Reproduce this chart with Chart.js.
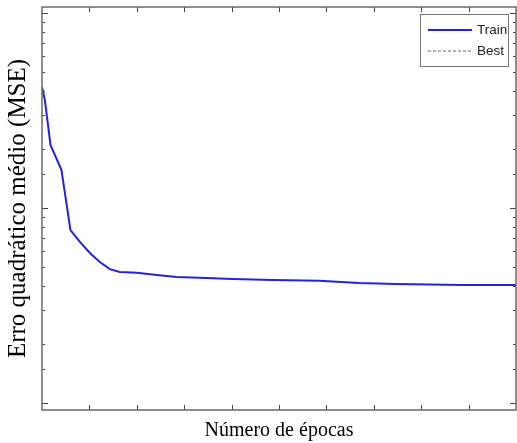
<!DOCTYPE html>
<html lang="pt">

<head>
    <meta charset="UTF-8">
    <title>Erro quadrático médio</title>
    <script src="https://cdn.jsdelivr.net/npm/chart.js"></script>
    <style>
        html, body { margin: 0; padding: 0; background: #fff; }
        .box-grafico { position: relative; width: 517px; height: 443px; }
    </style>
</head>

<body>
    <div class="box-grafico">
        <canvas id="grafico-mse"></canvas>
    </div>

<script>
    // valores (épocas e MSE de treino)
    var epocas = [0, 0.6, 1.8, 4.1, 6, 8, 10.1, 12.2, 14.3, 16.4, 20, 24.2, 28.4, 34.7, 40.2, 48.6, 58.5, 66.9, 74.7, 88.6, 100];
    var mseTreino = [0.417, 0.358, 0.210, 0.157, 0.0771, 0.0670, 0.0588, 0.0528, 0.0486, 0.0470, 0.0465, 0.0453, 0.0443, 0.0438, 0.0433, 0.0428, 0.0423, 0.0413, 0.0408, 0.0403, 0.0403];
    var epocasMelhor = [];
    var mseMelhor = [];
    var nomesSeries = ['Train', 'Best'];
    var limitesX = [0, 100];
    var passoX = 10;
    var limitesY = [0.00921, 1.073];

    function pontos(xs, ys) {
        var lista = [];
        for (var i = 0; i < xs.length; i++) {
            lista.push({ x: xs[i], y: ys[i] });
        }
        return lista;
    }

    // moldura, marcas para dentro e legenda com caixa (estilo matlab)
    var molduraPlugin = {
        id: 'moldura',
        afterDatasetsDraw(chart) {
            var ctx = chart.ctx;
            var a = chart.chartArea;
            var sx = chart.scales.x;
            var sy = chart.scales.y;

            function traco(x1, y1, x2, y2) {
                ctx.beginPath();
                ctx.moveTo(x1, y1);
                ctx.lineTo(x2, y2);
                ctx.stroke();
            }

            ctx.save();
            ctx.strokeStyle = '#444';
            ctx.lineWidth = 1;

            sx.ticks.forEach(function (t) {
                var px = Math.round(sx.getPixelForValue(t.value)) + 0.5;
                if (px <= a.left + 2 || px >= a.right - 2) return;
                traco(px, a.bottom, px, a.bottom - 5);
                traco(px, a.top, px, a.top + 5);
            });

            sy.ticks.forEach(function (t, i, arr) {
                if (i == 0 || i == arr.length - 1) return;
                var py = Math.round(sy.getPixelForValue(t.value)) + 0.5;
                var len = t.major ? 6 : 3;
                traco(a.left, py, a.left + len, py);
                traco(a.right, py, a.right - len, py);
            });

            ctx.strokeStyle = '#6a6a6a';
            ctx.lineWidth = 1.5;
            ctx.strokeRect(a.left, a.top, a.right - a.left, a.bottom - a.top);

            // legenda
            var bx = a.right - 96, by = a.top + 7, bw = 88, bh = 52;
            ctx.fillStyle = '#fff';
            ctx.fillRect(bx, by, bw, bh);
            ctx.strokeStyle = '#777';
            ctx.lineWidth = 1;
            ctx.strokeRect(bx + 0.5, by + 0.5, bw, bh);

            ctx.font = '13.5px "Liberation Sans", Arial, sans-serif';
            ctx.textBaseline = 'middle';
            ctx.textAlign = 'left';
            chart.data.datasets.forEach(function (ds, i) {
                var ly = by + 16 + i * 21;
                ctx.strokeStyle = ds.borderColor;
                ctx.lineWidth = ds.borderWidth;
                ctx.setLineDash(ds.borderDash || []);
                traco(bx + 8, ly, bx + 52, ly);
                ctx.setLineDash([]);
                ctx.fillStyle = '#222';
                ctx.fillText(ds.label, bx + 57, ly);
            });

            ctx.restore();
        }
    };

    var dadosGrafico = {
        datasets: [{
            label: nomesSeries[0],
            data: pontos(epocas, mseTreino),
            borderColor: '#2323dc',
            borderWidth: 2,
            pointRadius: 0,
            tension: 0
        }, {
            label: nomesSeries[1],
            data: pontos(epocasMelhor, mseMelhor),
            borderColor: '#5560b8',
            borderWidth: 1,
            borderDash: [3, 2],
            pointRadius: 0
        }]
    };

    var config = {
        type: 'line',
        data: dadosGrafico,
        options: {
            responsive: true,
            maintainAspectRatio: false,
            animation: false,
            layout: { padding: { top: 7, right: 1, left: 0, bottom: 0 } },
            plugins: {
                legend: { display: false },
                tooltip: { enabled: false }
            },
            scales: {
                x: {
                    type: 'linear',
                    min: limitesX[0],
                    max: limitesX[1],
                    ticks: { display: false, stepSize: passoX, autoSkip: false },
                    grid: { display: false, drawTicks: false },
                    border: { display: false },
                    title: {
                        display: true,
                        text: 'Número de épocas',
                        color: '#000',
                        font: { family: '"Liberation Serif", "Times New Roman", serif', size: 20 },
                        padding: { top: 9, bottom: 0 }
                    },
                    afterFit: function (scale) { scale.height = 33; }
                },
                y: {
                    type: 'logarithmic',
                    min: limitesY[0],
                    max: limitesY[1],
                    ticks: { display: false, autoSkip: false },
                    grid: { display: false, drawTicks: false },
                    border: { display: false },
                    title: {
                        display: true,
                        text: 'Erro quadrático médio (MSE)',
                        color: '#000',
                        font: { family: '"Liberation Serif", "Times New Roman", serif', size: 25 },
                        padding: { top: 3, bottom: 0 }
                    },
                    afterFit: function (scale) { scale.width = 42; }
                }
            }
        },
        plugins: [molduraPlugin]
    };

    let myChart = new Chart(document.getElementById('grafico-mse'), config);
</script>
</body>

</html>
